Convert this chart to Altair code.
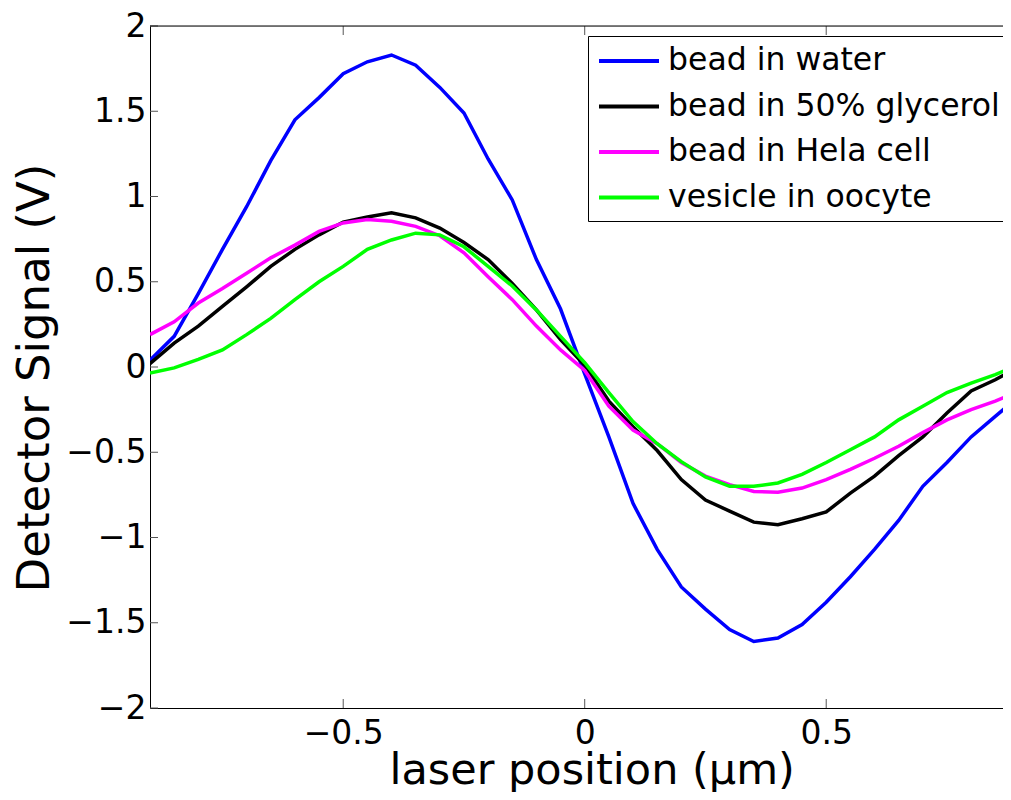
import altair as alt
import pandas as pd

# ---- data ----
x_pos = [-0.9, -0.85, -0.8, -0.75, -0.7, -0.65, -0.6, -0.55, -0.5, -0.45, -0.4, -0.35,
         -0.3, -0.25, -0.2, -0.15, -0.1, -0.05, 0.0, 0.05, 0.1, 0.15, 0.2, 0.25, 0.3,
         0.35, 0.4, 0.45, 0.5, 0.55, 0.6, 0.65, 0.7, 0.75, 0.8, 0.85, 0.875]

bead_water = [0.04, 0.18, 0.43, 0.69, 0.94, 1.21, 1.45, 1.58, 1.72, 1.79, 1.83, 1.77,
              1.64, 1.49, 1.22, 0.98, 0.63, 0.34, -0.04, -0.41, -0.80, -1.07, -1.29, -1.42, -1.54,
              -1.61, -1.59, -1.51, -1.38, -1.23, -1.07, -0.90, -0.70, -0.56, -0.41, -0.29, -0.23]

bead_glycerol = [0.02, 0.14, 0.24, 0.355, 0.47, 0.59, 0.69, 0.775, 0.85, 0.88, 0.905, 0.875,
                 0.815, 0.73, 0.63, 0.49, 0.335, 0.16, 0.01, -0.20, -0.35, -0.49, -0.66, -0.78, -0.845,
                 -0.91, -0.925, -0.89, -0.85, -0.74, -0.64, -0.52, -0.41, -0.27, -0.14, -0.075, -0.035]

bead_hela = [0.19, 0.265, 0.375, 0.46, 0.55, 0.64, 0.715, 0.795, 0.845, 0.865, 0.855, 0.825,
             0.77, 0.67, 0.53, 0.395, 0.24, 0.10, -0.02, -0.23, -0.37, -0.45, -0.56, -0.64, -0.69,
             -0.73, -0.735, -0.71, -0.66, -0.60, -0.535, -0.465, -0.385, -0.31, -0.25, -0.20, -0.17]

vesicle_oocyte = [-0.035, -0.005, 0.045, 0.10, 0.19, 0.285, 0.395, 0.50, 0.59, 0.69, 0.745, 0.785,
                  0.775, 0.705, 0.59, 0.475, 0.335, 0.18, 0.025, -0.15, -0.32, -0.45, -0.555, -0.645, -0.70,
                  -0.70, -0.68, -0.63, -0.56, -0.485, -0.41, -0.31, -0.23, -0.15, -0.095, -0.045, -0.015]

series_names = ["bead in water", "bead in 50% glycerol", "bead in Hela cell", "vesicle in oocyte"]
series_colors = ["#0000ff", "#000000", "#ff00ff", "#00ff00"]
x_ticks = [-0.5, 0, 0.5]
y_ticks = [-2, -1.5, -1, -0.5, 0, 0.5, 1, 1.5, 2]

rows = []
for name, vals in zip(series_names, [bead_water, bead_glycerol, bead_hela, vesicle_oocyte]):
    for xv, yv in zip(x_pos, vals):
        rows.append({"series": name, "x": xv, "y": yv})
df = pd.DataFrame(rows)

W, H = 853, 682
FONT = "DejaVu Sans"

x_axis = alt.Axis(values=x_ticks, format="~g", ticks=False, grid=False, domainColor="black",
                  domainWidth=1, labelFont=FONT, labelFontSize=33, labelColor="black",
                  labelPadding=9, title="laser position (µm)", titleFont=FONT,
                  titleFontSize=43, titleFontWeight="normal", titleColor="black",
                  titleX=441.7, titleY=75, titleBaseline="alphabetic", titleAlign="center")
y_axis = alt.Axis(values=y_ticks, format="~g", ticks=False, grid=False, domainColor="black",
                  domainWidth=1, labelFont=FONT, labelFontSize=33, labelColor="black",
                  labelPadding=4, title="Detector Signal (V)", titleFont=FONT,
                  titleFontSize=45, titleFontWeight="normal", titleColor="black",
                  titleX=-102, titleY=351.5, titleAngle=-90, titleBaseline="alphabetic",
                  titleAlign="center")

x_scale = alt.Scale(domain=[-0.9, 0.866], nice=False, zero=False)
y_scale = alt.Scale(domain=[-2, 2], nice=False, zero=False)


def X():
    return alt.X("x:Q", scale=x_scale, axis=x_axis)


def Y():
    return alt.Y("y:Q", scale=y_scale, axis=y_axis)


lines = alt.Chart(df).mark_line(strokeWidth=3.5, clip=True).encode(
    x=X(), y=Y(),
    color=alt.Color("series:N", sort=series_names,
                    scale=alt.Scale(domain=series_names, range=series_colors),
                    legend=alt.Legend(orient="none", legendX=438, legendY=10, title=None,
                                      symbolType="M-2,0H2", symbolSize=900,
                                      symbolStrokeWidth=4, labelFont=FONT, labelFontSize=31.5,
                                      labelColor="black", padding=8, rowPadding=12.5,
                                      labelOffset=22, symbolOffset=16, strokeColor="black",
                                      fillColor="white", labelLimit=0)),
    order=alt.Order("x:Q"),
)

xt = pd.DataFrame({"x": x_ticks})
yt = pd.DataFrame({"y": y_ticks})

xticks_bottom = alt.Chart(xt).mark_rule(color="#555555", strokeWidth=1).encode(
    x=X(), y=alt.value(H), y2=alt.value(H - 9))
xticks_top = alt.Chart(xt).mark_rule(color="#555555", strokeWidth=1).encode(
    x=X(), y=alt.value(0), y2=alt.value(9))
yticks_left = alt.Chart(yt).mark_rule(color="#555555", strokeWidth=1).encode(
    y=Y(), x=alt.value(0), x2=alt.value(8))
top_frame = alt.Chart(pd.DataFrame({"k": [0]})).mark_rule(color="black", strokeWidth=1).encode(
    x=alt.value(0), x2=alt.value(W), y=alt.value(0))

chart = alt.layer(xticks_bottom, xticks_top, yticks_left, top_frame, lines).properties(
    width=W, height=H,
    autosize=alt.AutoSizeParams(type="none"),
    padding={"left": 142, "top": 18, "right": 0, "bottom": 84},
).configure_view(stroke=None).configure(background="white")

chart.save("out.html", embed_options={"renderer": "svg", "actions": False})
